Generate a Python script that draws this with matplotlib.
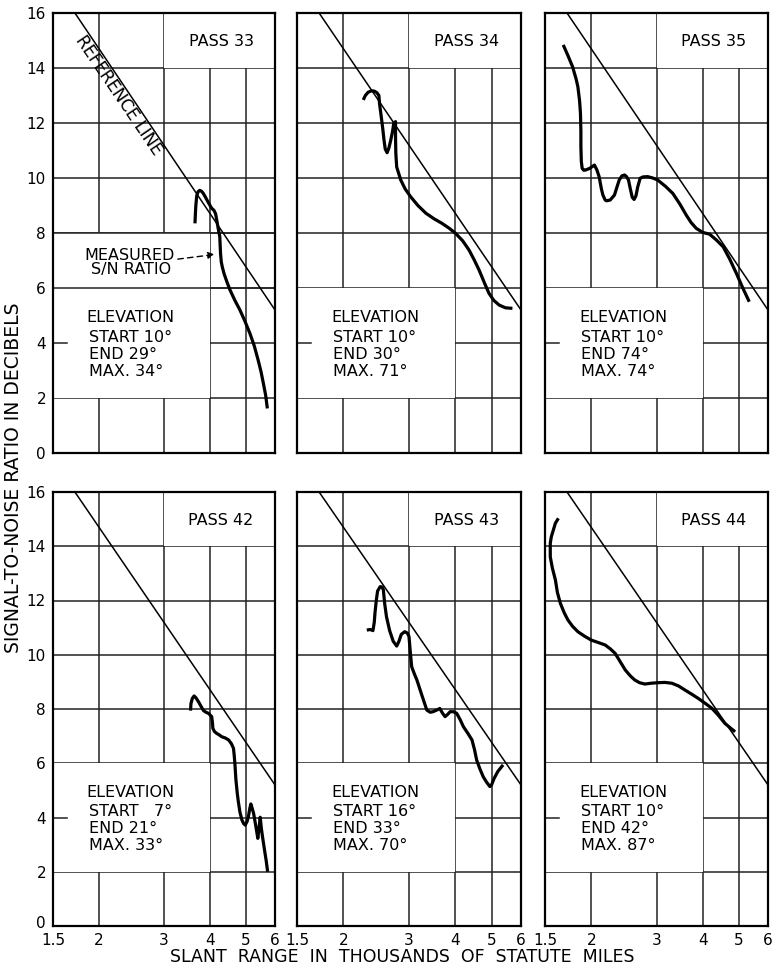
import numpy as np
import matplotlib.pyplot as plt
import matplotlib.transforms as mtransforms
from matplotlib.patches import Rectangle

passes = ['PASS 33', 'PASS 34', 'PASS 35', 'PASS 42', 'PASS 43', 'PASS 44']
elev_start = ['10°', '10°', '10°', '7°', '16°', '10°']
elev_end = ['29°', '30°', '74°', '21°', '33°', '42°']
elev_max = ['34°', '71°', '74°', '33°', '70°', '87°']

# slant range (thousands of statute miles) and measured S/N (dB) per pass
range_33 = [3.64, 3.65, 3.66, 3.68, 3.71, 3.75, 3.79, 3.83, 3.88, 3.96, 4.04, 4.10, 4.14, 4.17,
            4.21, 4.25, 4.26, 4.27, 4.29, 4.32, 4.37, 4.45, 4.53, 4.67, 4.82, 4.97, 5.13, 5.27,
            5.40, 5.50, 5.58, 5.66, 5.72]
snr_33 = [8.35, 8.7, 9.0, 9.35, 9.5, 9.55, 9.52, 9.45, 9.32, 9.1, 8.9, 8.82, 8.7, 8.47,
          8.15, 7.87, 7.55, 7.26, 6.95, 6.75, 6.5, 6.2, 5.93, 5.55, 5.2, 4.8, 4.35, 3.9,
          3.38, 2.95, 2.53, 2.1, 1.62]

range_34 = [2.26, 2.29, 2.33, 2.38, 2.42, 2.46, 2.49, 2.50, 2.52, 2.55, 2.57, 2.59, 2.62, 2.65,
            2.68, 2.71, 2.73, 2.76, 2.76, 2.765, 2.78, 2.85, 2.93, 3.03, 3.17, 3.33, 3.5, 3.68,
            3.85, 4.0, 4.18, 4.35, 4.5, 4.63, 4.78, 4.92, 5.07, 5.24, 5.45, 5.69]
snr_34 = [12.84, 13.0, 13.12, 13.17, 13.16, 13.1, 13.0, 12.7, 12.35, 11.8, 11.38, 11.05, 10.92, 11.1,
          11.38, 11.7, 11.99, 12.05, 11.5, 10.9, 10.4, 9.93, 9.6, 9.32, 9.0, 8.72, 8.52, 8.35,
          8.17, 7.99, 7.72, 7.38, 7.0, 6.65, 6.2, 5.81, 5.55, 5.38, 5.28, 5.26]

range_35 = [1.68, 1.73, 1.78, 1.82, 1.84, 1.86, 1.87, 1.875, 1.875, 1.88, 1.89, 1.91, 1.93, 1.98,
            2.04, 2.07, 2.10, 2.13, 2.15, 2.18, 2.20, 2.25, 2.31, 2.35, 2.38, 2.42, 2.46, 2.49,
            2.52, 2.55, 2.58, 2.61, 2.64, 2.67, 2.71, 2.76, 2.84, 2.93, 3.02, 3.17, 3.32, 3.47,
            3.61, 3.72, 3.84, 4.0, 4.17, 4.35, 4.54, 4.73, 4.93, 5.13, 5.34]
snr_35 = [14.84, 14.45, 14.05, 13.6, 13.32, 12.8, 12.35, 11.7, 11.14, 10.6, 10.35, 10.28, 10.29, 10.35,
          10.47, 10.3, 10.05, 9.6, 9.38, 9.2, 9.17, 9.2, 9.38, 9.7, 9.93, 10.08, 10.11, 10.05,
          9.93, 9.6, 9.3, 9.22, 9.35, 9.68, 9.99, 10.04, 10.05, 10.0, 9.93, 9.7, 9.44, 9.05,
          8.65, 8.38, 8.17, 8.02, 7.96, 7.75, 7.50, 7.05, 6.53, 6.0, 5.50]

range_42 = [3.54, 3.55, 3.58, 3.62, 3.66, 3.72, 3.78, 3.84, 3.9, 3.96, 4.04, 4.06, 4.07, 4.11,
            4.17, 4.23, 4.30, 4.40, 4.49, 4.57, 4.63, 4.65, 4.67, 4.70, 4.74, 4.77, 4.82, 4.88,
            4.93, 4.98, 5.04, 5.08, 5.13, 5.16, 5.2, 5.25, 5.32, 5.39, 5.43, 5.47, 5.51, 5.55,
            5.62, 5.68, 5.73]
snr_42 = [7.94, 8.2, 8.39, 8.48, 8.42, 8.27, 8.1, 7.94, 7.88, 7.84, 7.72, 7.5, 7.29, 7.17,
          7.10, 7.05, 6.98, 6.93, 6.86, 6.72, 6.55, 6.3, 6.0, 5.4, 4.9, 4.6, 4.2, 3.91,
          3.78, 3.72, 3.85, 4.03, 4.35, 4.50, 4.35, 4.15, 3.7, 3.23, 3.6, 4.01, 3.6, 3.29,
          2.8, 2.4, 2.0]

range_43 = [2.31, 2.36, 2.40, 2.42, 2.43, 2.45, 2.47, 2.51, 2.54, 2.56, 2.58, 2.61, 2.66, 2.72,
            2.78, 2.82, 2.86, 2.92, 2.97, 3.0, 3.02, 3.05, 3.1, 3.15, 3.25, 3.35, 3.42, 3.48,
            3.55, 3.63, 3.69, 3.75, 3.81, 3.87, 3.95, 4.03, 4.12, 4.20, 4.32, 4.43, 4.50, 4.56,
            4.65, 4.75, 4.85, 4.95, 5.0, 5.08, 5.2, 5.37]
snr_43 = [10.91, 10.93, 10.89, 11.2, 11.53, 12.0, 12.35, 12.51, 12.5, 12.39, 11.9, 11.4, 10.9, 10.5,
          10.32, 10.5, 10.75, 10.85, 10.8, 10.67, 10.2, 9.56, 9.3, 9.07, 8.5, 7.96, 7.88, 7.9,
          7.95, 8.02, 7.85, 7.72, 7.8, 7.9, 7.9, 7.84, 7.6, 7.35, 7.1, 6.86, 6.5, 6.12,
          5.8, 5.5, 5.3, 5.14, 5.2, 5.44, 5.7, 5.94]

range_44 = [1.63, 1.60, 1.58, 1.56, 1.55, 1.55, 1.57, 1.60, 1.62, 1.65, 1.69, 1.73, 1.78, 1.84,
            1.92, 2.0, 2.09, 2.18, 2.25, 2.32, 2.40, 2.47, 2.55, 2.62, 2.70, 2.79, 2.9, 3.03,
            3.16, 3.30, 3.44, 3.58, 3.73, 3.89, 4.05, 4.23, 4.40, 4.59, 4.75, 4.89]
snr_44 = [15.03, 14.85, 14.6, 14.35, 14.11, 13.61, 13.2, 12.76, 12.3, 11.9, 11.55, 11.28, 11.05, 10.85,
          10.68, 10.54, 10.45, 10.36, 10.22, 10.05, 9.72, 9.44, 9.22, 9.07, 8.97, 8.92, 8.95, 8.97,
          8.98, 8.95, 8.85, 8.7, 8.55, 8.39, 8.22, 8.03, 7.78, 7.47, 7.3, 7.16]

ref_range = [1.72, 6.0]
ref_snr = [16.0, 5.2]

x_ticks = [1.5, 2, 3, 4, 5, 6]
x_labels = ['1.5', '2', '3', '4', '5', '6']
y_ticks = [0, 2, 4, 6, 8, 10, 12, 14, 16]

ranges = [range_33, range_34, range_35, range_42, range_43, range_44]
snrs = [snr_33, snr_34, snr_35, snr_42, snr_43, snr_44]

W, H = 772, 968
fig = plt.figure(figsize=(W / 100, H / 100), dpi=100)
plt.rcParams['font.family'] = ['DejaVu Sans']

col_left = [53, 297, 545]
col_width = [222, 224, 223]
row_bottom = [453, 926]
row_height = [440, 434]
txt = 11.5

for i in range(6):
    r, c = divmod(i, 3)
    ax = fig.add_axes([col_left[c] / W, 1 - row_bottom[r] / H, col_width[c] / W, row_height[r] / H])
    ax.set_xscale('log')
    ax.set_xlim(1.5, 6)
    ax.set_ylim(0, 16)
    ax.set_xticks(x_ticks)
    ax.set_xticklabels(x_labels)
    ax.minorticks_off()
    ax.set_yticks(y_ticks)
    ax.tick_params(axis='y', length=0, pad=5, labelsize=11)
    ax.tick_params(axis='x', length=0, pad=5, labelsize=11)
    if c != 0:
        ax.set_yticklabels([])
    if r != 1:
        ax.set_xticklabels([])
    if r == 1 and c == 0:
        # lift the "0" a little so it clears the "1.5" below it
        zero = ax.get_yticklabels()[0]
        zero.set_transform(zero.get_transform() +
                           mtransforms.ScaledTranslation(0, 4 / 100, fig.dpi_scale_trans))
    ax.set_axisbelow(True)
    ax.grid(True, color='#222222', lw=1.1)
    for s in ax.spines.values():
        s.set_linewidth(1.6)

    # blank label areas that hide the grid
    ax.add_patch(Rectangle((3, 14), 3, 2, fc='white', ec='none', zorder=1))
    if i == 0:
        ax.add_patch(Rectangle((1.5, 2), 2.5, 6, fc='white', ec='none', zorder=1))
        ax.plot([1.5, 6], [6, 6], color='#222222', lw=1.1, zorder=1.2)
        ax.plot([1.5, 6], [8, 8], color='#222222', lw=1.1, zorder=1.2)
    else:
        ax.add_patch(Rectangle((1.5, 2), 2.5, 4, fc='white', ec='none', zorder=1))
    ax.plot([1.5, 1.64], [4, 4], color='#222222', lw=1.1, zorder=1.2)

    ax.plot(ref_range, ref_snr, color='black', lw=1.1, zorder=3)
    ax.plot(ranges[i], snrs[i], color='black', lw=2.3, solid_joinstyle='round',
            solid_capstyle='butt', zorder=4)

    ax.text(0.757, 0.935, passes[i], transform=ax.transAxes, ha='center', va='center', fontsize=txt)
    ax.text(0.35, 0.307, 'ELEVATION', transform=ax.transAxes, ha='center', va='center', fontsize=txt)
    ax.text(0.16, 0.263, 'START ' + ('  ' if len(elev_start[i]) < 3 else '') + elev_start[i],
            transform=ax.transAxes, ha='left', va='center', fontsize=txt)
    ax.text(0.16, 0.224, 'END ' + elev_end[i], transform=ax.transAxes, ha='left', va='center', fontsize=txt)
    ax.text(0.16, 0.186, 'MAX. ' + elev_max[i], transform=ax.transAxes, ha='left', va='center', fontsize=txt)

    if i == 0:
        ax.text(0.295, 0.812, 'REFERENCE LINE', transform=ax.transAxes, ha='center', va='center',
                rotation=-55.8, fontsize=12)
        ax.text(0.345, 0.45, 'MEASURED', transform=ax.transAxes, ha='center', va='center', fontsize=txt)
        ax.text(0.35, 0.416, 'S/N RATIO', transform=ax.transAxes, ha='center', va='center', fontsize=txt)
        ax.annotate('', xy=(4.12, 7.22), xytext=(3.27, 7.05),
                    arrowprops=dict(arrowstyle='-|>', color='black', lw=1.0, ls=(0, (4, 3)),
                                    mutation_scale=10, shrinkA=0, shrinkB=0))

fig.text(0.017, 0.506, 'SIGNAL-TO-NOISE RATIO IN DECIBELS', rotation=90, ha='center', va='center',
         fontsize=13.5)
fig.text(0.521, 0.011, 'SLANT  RANGE  IN  THOUSANDS  OF  STATUTE  MILES', ha='center', va='center',
         fontsize=12.5)

fig.savefig('out.png', dpi=100)
